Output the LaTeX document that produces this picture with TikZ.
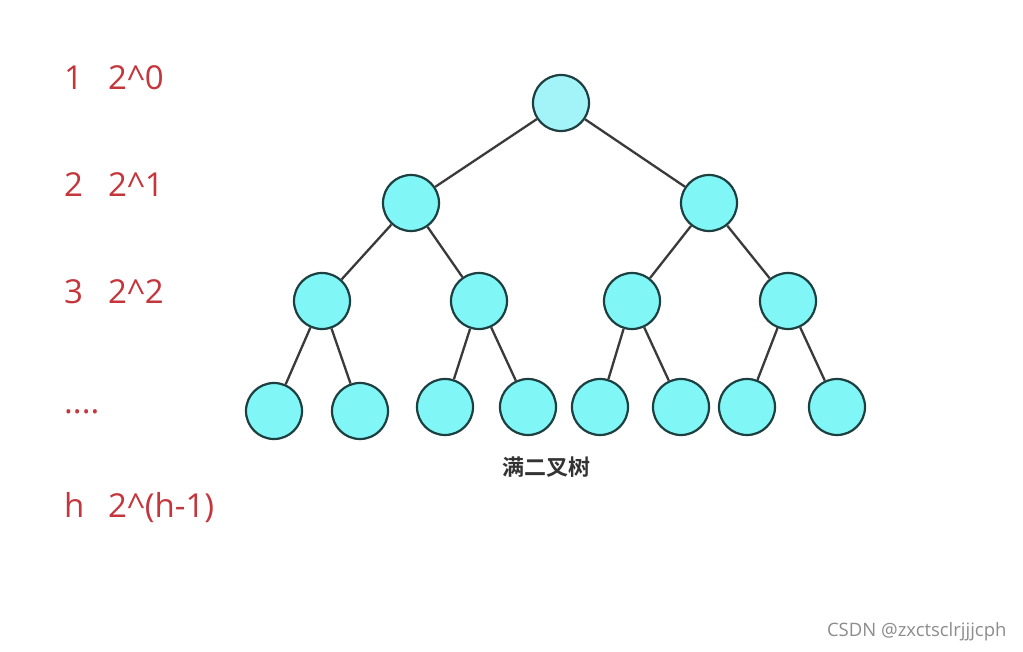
\documentclass[tikz,border=0pt]{standalone}
\usepackage{fontspec}
\setmainfont{Open Sans}
\newfontfamily\cjkbold[BoldFont={Noto Sans CJK SC Bold}]{Noto Sans CJK SC}
\definecolor{nodefill}{HTML}{80F6F6}
\definecolor{rootfill}{HTML}{A2F4F8}
\definecolor{nodeline}{HTML}{1E3F40}
\definecolor{edgeline}{HTML}{3A3A3A}
\definecolor{levelred}{HTML}{C4353C}
\tikzset{
  treenode/.style={circle, minimum size=56pt, inner sep=0pt, fill=nodefill, draw=nodeline, line width=2.2pt},
  treeedge/.style={draw=edgeline, line width=2.3pt},
  levellabel/.style={anchor=base west, inner sep=0pt, text=levelred, font=\fontsize{33}{38}\selectfont}
}
\begin{document}
\begin{tikzpicture}[x=1pt,y=-1pt]
\useasboundingbox[fill=white] (0,0) rectangle (1023,652);

% Niveles y cantidad de nodos
\node [levellabel] (n1) at (64,90) {1};
\node [levellabel] (p1) at (108,90) {2\textasciicircum0};
\node [levellabel] (n2) at (64,197) {2};
\node [levellabel] (p2) at (108,197) {2\textasciicircum1};
\node [levellabel] (n3) at (64,304) {3};
\node [levellabel] (p3) at (108,304) {2\textasciicircum2};
\node [levellabel] (dots) at (64,413) {....};
\node [levellabel] (nh) at (64,517) {h};
\node [levellabel] (ph) at (108,517) {2\textasciicircum(h-1)};

% Raiz
\node [treenode, fill=rootfill] (r) at (561,103) {};

% Nivel 2
\node [treenode] (a) at (411,203) {};
\node [treenode] (b) at (709,203) {};

% Nivel 3
\node [treenode] (aa) at (322,301) {};
\node [treenode] (ab) at (479,301) {};
\node [treenode] (ba) at (632,301) {};
\node [treenode] (bb) at (788,301) {};

% Hojas
\node [treenode] (aaa) at (274,411) {};
\node [treenode] (aab) at (360,411) {};
\node [treenode] (aba) at (445,407) {};
\node [treenode] (abb) at (528,407) {};
\node [treenode] (baa) at (600,407) {};
\node [treenode] (bab) at (681,407) {};
\node [treenode] (bba) at (747,407) {};
\node [treenode] (bbb) at (837,407) {};

% Aristas
\draw [treeedge] (r) -- (a);
\draw [treeedge] (r) -- (b);
\draw [treeedge] (a) -- (aa);
\draw [treeedge] (a) -- (ab);
\draw [treeedge] (b) -- (ba);
\draw [treeedge] (b) -- (bb);
\draw [treeedge] (aa) -- (aaa);
\draw [treeedge] (aa) -- (aab);
\draw [treeedge] (ab) -- (aba);
\draw [treeedge] (ab) -- (abb);
\draw [treeedge] (ba) -- (baa);
\draw [treeedge] (ba) -- (bab);
\draw [treeedge] (bb) -- (bba);
\draw [treeedge] (bb) -- (bbb);

% Titulo
\node [text=black!80, font=\cjkbold\bfseries\fontsize{22}{24}\selectfont] (title) at (546,467) {满二叉树};

% Marca de agua
\node [anchor=east, text=black!45, font=\fontsize{18.5}{20}\selectfont] (mark) at (1010,632) {CSDN @zxctsclrjjjcph};
\end{tikzpicture}
\end{document}
